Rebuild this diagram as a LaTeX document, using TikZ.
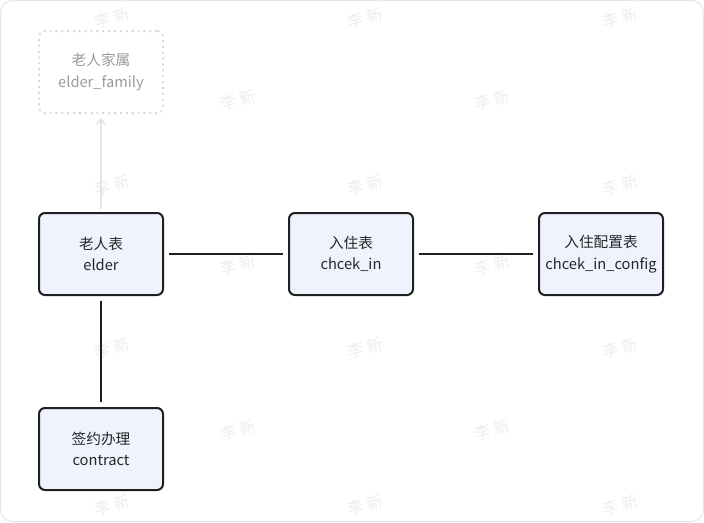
\documentclass[tikz,border=0pt]{standalone}
\usepackage{fontspec}
\setmainfont{Noto Sans CJK SC}
\usepackage{xcolor}
\usetikzlibrary{arrows.meta,positioning}

\definecolor{boxfill}{HTML}{EEF3FD}
\definecolor{boxline}{HTML}{1F1F1F}
\definecolor{txt}{HTML}{262626}
\definecolor{ghostline}{HTML}{D6D6D6}
\definecolor{ghosttext}{HTML}{9A9A9A}
\definecolor{arrowgray}{HTML}{E4E4E4}
\definecolor{framegray}{HTML}{E6E6E6}
\definecolor{wmgray}{HTML}{EDEDED}

\begin{document}
\begin{tikzpicture}[
    x=0.75pt, y=-0.75pt,
    table/.style={draw=boxline, line width=1.5pt, rounded corners=4.5pt, fill=boxfill,
        minimum width=93pt, minimum height=61.5pt, align=center,
        font=\fontsize{11}{16}\selectfont, text=txt},
    ghost/.style={table, draw=ghostline, fill=none, text=ghosttext, line width=1.4pt,
        dash pattern=on 1.4pt off 3pt},
    link/.style={line width=1.5pt, draw=boxline, shorten <=3.5pt, shorten >=3.5pt},
    arr/.style={-{Straight Barb[length=4pt,width=7pt,line width=1.2pt]}, line width=1.5pt,
        draw=arrowgray, shorten <=2pt, shorten >=3pt},
    wmark/.style={text=wmgray, rotate=15, font=\fontsize{12}{12}\selectfont},
    node distance=93pt
]
\useasboundingbox (0,0) rectangle (704,522);
\draw[framegray, line width=0.75pt, rounded corners=9pt] (0.5,0.5) rectangle (703.5,521.5);

% watermarks
\foreach \x/\y [count=\i] in {112/18,365/18,620/18,238/100,492/100,112/185,365/185,620/185,
    238/265,492/265,112/348,365/348,620/348,238/430,492/430,112/505,365/505,620/505}
    \node[wmark] (wm\i) at (\x,\y) {李\hspace{3pt}新};

\node[table] (elder) at (101,254) {老人表\\elder};
\node[table, right=of elder] (checkin) {入住表\\chcek\_in};
\node[table, right=of checkin] (config) {入住配置表\\chcek\_in\_config};
\node[table, below=83.25pt of elder] (contract) {签约办理\\contract};
\node[ghost, above=73.5pt of elder] (family) {老人家属\\elder\_family};

\draw[link] (elder) -- (checkin);
\draw[link] (checkin) -- (config);
\draw[link] (elder) -- (contract);
\draw[arr] (elder) -- (family);
\end{tikzpicture}
\end{document}
